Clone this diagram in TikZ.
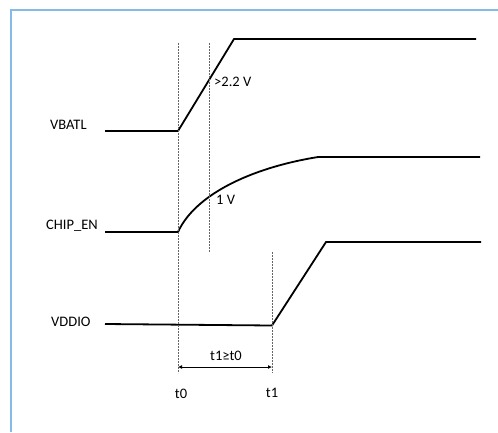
\documentclass[tikz,border=0pt]{standalone}
\usepackage{fontspec}
\setmainfont{Carlito}
\usetikzlibrary{arrows.meta}
\definecolor{frameblue}{RGB}{133,187,230}
\begin{document}
\begin{tikzpicture}[x=1pt,y=-1pt,
  sig/.style={line width=1.8pt},
  guide/.style={gray!80!black,line width=0.7pt,dash pattern=on 2pt off 1pt},
  lbl/.style={font=\fontsize{14.5}{17}\selectfont,inner sep=0pt},
  dim/.style={line width=0.8pt,{Latex[length=4pt,width=4pt]}-{Latex[length=4pt,width=4pt]}}]
\useasboundingbox (0,0) rectangle (498,432);
\fill[white] (0,0) rectangle (498,432);
\draw[frameblue,line width=2pt] (11,432) -- (11,10) -- (498,10);
% VBATL
\coordinate (v0) at (105,131);
\coordinate (v1) at (178,131);
\coordinate (v2) at (234,39);
\coordinate (v3) at (476,39);
\draw[sig] (v0) -- (v1) -- (v2) -- (v3);
\node[lbl,anchor=west] (vbatl) at (50,125) {VBATL};
% CHIP_EN
\coordinate (c0) at (105,232);
\coordinate (c1) at (178,232);
\coordinate (c2) at (318,157);
\coordinate (c3) at (480,157);
\draw[sig] (c0) -- (c1) .. controls (195,195) and (250,168) .. (c2) -- (c3);
\node[lbl,anchor=west] (chipen) at (46,226) {CHIP\_EN};
% VDDIO
\coordinate (d0) at (105,324);
\coordinate (d1) at (272,325.5);
\coordinate (d2) at (326,242);
\coordinate (d3) at (481,242);
\draw[sig] (d0) -- (d1) -- (d2) -- (d3);
\node[lbl,anchor=west] (vddio) at (51,322) {VDDIO};
% guides
\coordinate (g0t) at (178,43);
\coordinate (g0b) at (178,373);
\coordinate (g1t) at (209,43);
\coordinate (g1b) at (209,252);
\coordinate (g2t) at (272,252);
\coordinate (g2b) at (272,373);
\draw[guide] (g0t) -- (g0b);
\draw[guide] (g1t) -- (g1b);
\draw[guide] (g2t) -- (g2b);
% dimension
\coordinate (a0) at (178,367);
\coordinate (a1) at (272,367);
\draw[dim] (a0) -- (a1);
\node[lbl] (dt) at (226,356) {t1≥t0};
\node[lbl] (t0) at (181,394) {t0};
\node[lbl] (t1) at (272,393) {t1};
\node[lbl,anchor=west] (v22) at (214,82) {>2.2 V};
\node[lbl,anchor=west] (v1v) at (216,200) {1 V};
\end{tikzpicture}
\end{document}
